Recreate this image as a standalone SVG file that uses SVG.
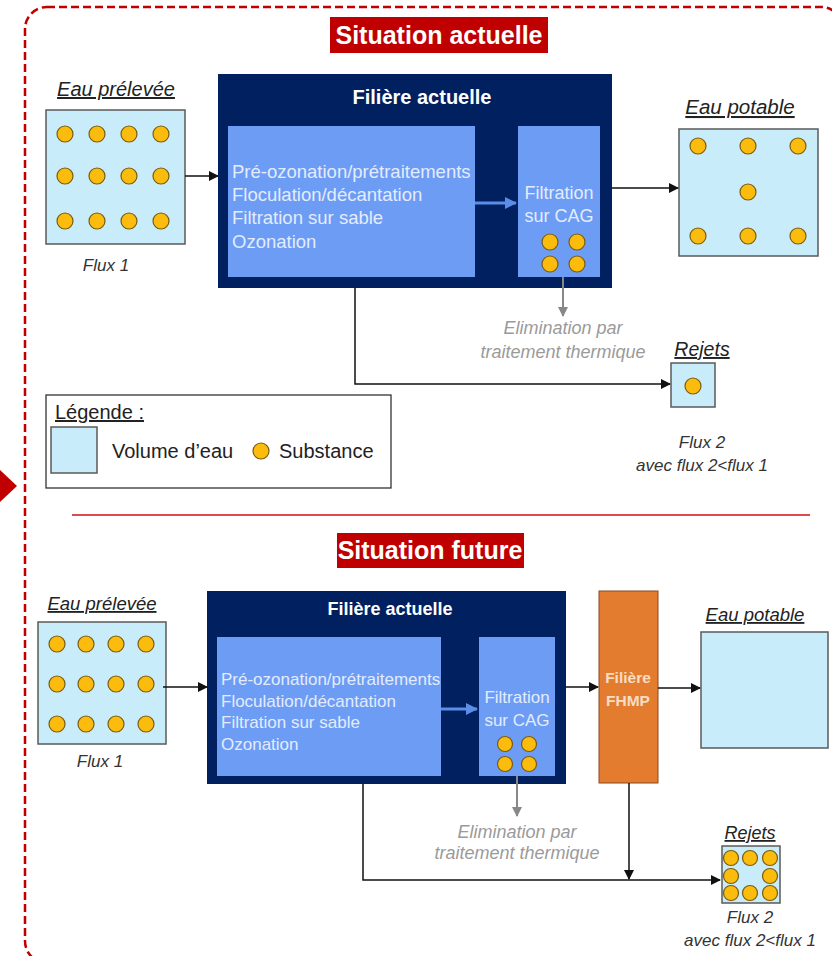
<svg xmlns="http://www.w3.org/2000/svg" width="832" height="956" viewBox="0 0 832 956">
<defs>
<style>
text{font-family:"Liberation Sans",Arial,sans-serif}
.title{font-size:25px;font-weight:bold;fill:#fff}
.tbox{fill:#c00000}
.water{fill:#c9ecfa;stroke:#5a5a5a;stroke-width:1.5}
.sub{fill:#fbbc0e;stroke:#7a5c10;stroke-width:1.2}
.navy{fill:#00205f}
.inner{fill:#6d9cf5}
.lbl{font-style:italic;text-decoration:underline;fill:#222}
.it{font-size:17px;font-style:italic;fill:#333}
.proc{fill:#e3ecfd}
.hd{font-weight:bold;fill:#fff}
.gray{font-size:18px;font-style:italic;fill:#9a9a9a}
.leg{font-size:20px;fill:#222}
.blk{stroke:#111;stroke-width:1.5;fill:none}
.gry{stroke:#888;stroke-width:2;fill:none}
.blu{stroke:#5b8ee8;stroke-width:3;fill:none}
</style>
<marker id="ab" markerWidth="10" markerHeight="10" refX="9" refY="5" orient="auto" markerUnits="userSpaceOnUse" viewBox="0 0 10 10"><path d="M0,0 L10,5 L0,10 z" fill="#111"/></marker>
<marker id="ag" markerWidth="10" markerHeight="10" refX="9" refY="5" orient="auto" markerUnits="userSpaceOnUse" viewBox="0 0 10 10"><path d="M0,0 L10,5 L0,10 z" fill="#888"/></marker>
<marker id="au" markerWidth="12" markerHeight="12" refX="11" refY="6" orient="auto" markerUnits="userSpaceOnUse" viewBox="0 0 12 12"><path d="M0,0 L12,6 L0,12 z" fill="#5b8ee8"/></marker>
</defs>
<rect width="832" height="956" fill="#fff"/>
<!-- outer dashed frame -->
<rect x="25" y="7" width="818" height="956" rx="22" fill="none" stroke="#c00000" stroke-width="2.5" stroke-dasharray="8 4"/>
<path d="M0,470 L17,486 L0,502 z" fill="#c00000"/>
<line x1="72" y1="515" x2="810" y2="515" stroke="#d01010" stroke-width="1.5"/>

<!-- ===== TOP: Situation actuelle ===== -->
<g id="title-actuelle"><rect class="tbox" x="330" y="17" width="218" height="36"/><text class="title" x="439" y="44" text-anchor="middle">Situation actuelle</text></g>

<g id="eau-prelevee-1">
<text class="lbl" x="116" y="96" text-anchor="middle" font-size="20">Eau prélevée</text>
<rect class="water" x="46" y="110" width="139" height="134"/>
<circle class="sub" cx="65" cy="134" r="8"/><circle class="sub" cx="97" cy="134" r="8"/><circle class="sub" cx="129" cy="134" r="8"/><circle class="sub" cx="161" cy="134" r="8"/>
<circle class="sub" cx="65" cy="176" r="8"/><circle class="sub" cx="97" cy="176" r="8"/><circle class="sub" cx="129" cy="176" r="8"/><circle class="sub" cx="161" cy="176" r="8"/>
<circle class="sub" cx="65" cy="221" r="8"/><circle class="sub" cx="97" cy="221" r="8"/><circle class="sub" cx="129" cy="221" r="8"/><circle class="sub" cx="161" cy="221" r="8"/>
<text class="it" x="106" y="271" text-anchor="middle">Flux 1</text>
</g>

<g id="filiere-actuelle-1">
<rect class="navy" x="218" y="74" width="394" height="214"/>
<text class="hd" x="422" y="104" text-anchor="middle" font-size="20">Filière actuelle</text>
<rect class="inner" x="228" y="126" width="247" height="151"/>
<text class="proc" x="232" y="178" font-size="18.5">Pré-ozonation/prétraitements</text>
<text class="proc" x="232" y="201" font-size="18.5">Floculation/décantation</text>
<text class="proc" x="232" y="224" font-size="18.5">Filtration sur sable</text>
<text class="proc" x="232" y="248" font-size="18.5">Ozonation</text>
<rect class="inner" x="518" y="126" width="82" height="151"/>
<text class="proc" x="559" y="199" text-anchor="middle" font-size="18">Filtration</text>
<text class="proc" x="559" y="222" text-anchor="middle" font-size="18">sur CAG</text>
<circle class="sub" cx="550" cy="242" r="8"/><circle class="sub" cx="577" cy="242" r="8"/>
<circle class="sub" cx="550" cy="264" r="8"/><circle class="sub" cx="577" cy="264" r="8"/>
</g>

<g id="eau-potable-1">
<text class="lbl" x="740" y="114" text-anchor="middle" font-size="20.5">Eau potable</text>
<rect class="water" x="679" y="129" width="139" height="127"/>
<circle class="sub" cx="698" cy="146" r="8"/><circle class="sub" cx="748" cy="146" r="8"/><circle class="sub" cx="798" cy="146" r="8"/>
<circle class="sub" cx="748" cy="192" r="8"/>
<circle class="sub" cx="698" cy="236" r="8"/><circle class="sub" cx="748" cy="236" r="8"/><circle class="sub" cx="798" cy="236" r="8"/>
</g>

<g id="elimination-1">
<text class="gray" x="563" y="334" text-anchor="middle">Elimination par</text>
<text class="gray" x="563" y="358" text-anchor="middle">traitement thermique</text>
</g>

<g id="rejets-1">
<text class="lbl" x="702" y="356" text-anchor="middle" font-size="19.5">Rejets</text>
<rect class="water" x="671" y="363" width="44" height="44"/>
<circle class="sub" cx="693" cy="386" r="8"/>
<text class="it" x="702" y="448" text-anchor="middle">Flux 2</text>
<text class="it" x="702" y="471" text-anchor="middle">avec flux 2&lt;flux 1</text>
</g>

<g id="legende">
<rect x="46" y="395" width="345" height="93" fill="#fff" stroke="#333" stroke-width="1.3"/>
<text class="leg" x="55" y="419" text-decoration="underline">Légende :</text>
<rect class="water" x="51" y="427" width="46" height="46"/>
<text class="leg" x="112" y="458">Volume d’eau</text>
<circle class="sub" cx="261" cy="451" r="8"/>
<text class="leg" x="279" y="458">Substance</text>
</g>

<g id="connectors-1">
<line class="blk" x1="185" y1="176" x2="218" y2="176" marker-end="url(#ab)"/>
<line class="blu" x1="475" y1="203" x2="516" y2="203" marker-end="url(#au)"/>
<line class="blk" x1="612" y1="188" x2="678" y2="188" marker-end="url(#ab)"/>
<line class="gry" x1="563" y1="277" x2="563" y2="316" marker-end="url(#ag)"/>
<polyline class="blk" points="355,288 355,384 670,384" marker-end="url(#ab)"/>
</g>

<!-- ===== BOTTOM: Situation future ===== -->
<g id="title-future"><rect class="tbox" x="337" y="533" width="187" height="35"/><text class="title" x="430" y="559" text-anchor="middle" font-size="24.5">Situation future</text></g>

<g id="eau-prelevee-2">
<text class="lbl" x="102" y="610" text-anchor="middle" font-size="18.5">Eau prélevée</text>
<rect class="water" x="38" y="622" width="128" height="122"/>
<circle class="sub" cx="57" cy="644" r="8"/><circle class="sub" cx="86" cy="644" r="8"/><circle class="sub" cx="116" cy="644" r="8"/><circle class="sub" cx="146" cy="644" r="8"/>
<circle class="sub" cx="57" cy="684" r="8"/><circle class="sub" cx="86" cy="684" r="8"/><circle class="sub" cx="116" cy="684" r="8"/><circle class="sub" cx="146" cy="684" r="8"/>
<circle class="sub" cx="57" cy="724" r="8"/><circle class="sub" cx="86" cy="724" r="8"/><circle class="sub" cx="116" cy="724" r="8"/><circle class="sub" cx="146" cy="724" r="8"/>
<text class="it" x="100" y="767" text-anchor="middle" font-size="16">Flux 1</text>
</g>

<g id="filiere-actuelle-2">
<rect class="navy" x="207" y="591" width="359" height="193"/>
<text class="hd" x="390" y="615" text-anchor="middle" font-size="18">Filière actuelle</text>
<rect class="inner" x="217" y="637" width="224" height="139"/>
<text class="proc" x="221" y="685" font-size="17">Pré-ozonation/prétraitements</text>
<text class="proc" x="221" y="707" font-size="17">Floculation/décantation</text>
<text class="proc" x="221" y="728" font-size="17">Filtration sur sable</text>
<text class="proc" x="221" y="750" font-size="17">Ozonation</text>
<rect class="inner" x="479" y="637" width="76" height="139"/>
<text class="proc" x="517" y="703" text-anchor="middle" font-size="17">Filtration</text>
<text class="proc" x="517" y="726" text-anchor="middle" font-size="17">sur CAG</text>
<circle class="sub" cx="505" cy="744" r="7.5"/><circle class="sub" cx="529" cy="744" r="7.5"/>
<circle class="sub" cx="505" cy="764" r="7.5"/><circle class="sub" cx="529" cy="764" r="7.5"/>
</g>

<g id="filiere-fhmp">
<rect x="599" y="591" width="59" height="192" fill="#e47c30" stroke="#8a4a20" stroke-width="1"/>
<text x="628" y="683" font-size="15.5" font-weight="bold" fill="#f8dcc4" text-anchor="middle">Filière</text>
<text x="628" y="706" font-size="15.5" font-weight="bold" fill="#f8dcc4" text-anchor="middle">FHMP</text>
</g>

<g id="eau-potable-2">
<text class="lbl" x="755" y="621" text-anchor="middle" font-size="18.5">Eau potable</text>
<rect class="water" x="701" y="632" width="127" height="116"/>
</g>

<g id="elimination-2">
<text class="gray" x="517" y="838" text-anchor="middle" font-size="16.5">Elimination par</text>
<text class="gray" x="517" y="859" text-anchor="middle" font-size="16.5">traitement thermique</text>
</g>

<g id="rejets-2">
<text class="lbl" x="750" y="839" text-anchor="middle" font-size="18">Rejets</text>
<rect class="water" x="722" y="846" width="58" height="57"/>
<circle class="sub" cx="731" cy="858" r="7.5"/><circle class="sub" cx="750" cy="858" r="7.5"/><circle class="sub" cx="770" cy="858" r="7.5"/>
<circle class="sub" cx="731" cy="876" r="7.5"/><circle class="sub" cx="770" cy="876" r="7.5"/>
<circle class="sub" cx="731" cy="893" r="7.5"/><circle class="sub" cx="750" cy="893" r="7.5"/><circle class="sub" cx="770" cy="893" r="7.5"/>
<text class="it" x="750" y="923" text-anchor="middle" font-size="16">Flux 2</text>
<text class="it" x="750" y="946" text-anchor="middle" font-size="16">avec flux 2&lt;flux 1</text>
</g>

<g id="connectors-2">
<line class="blk" x1="163" y1="687" x2="207" y2="687" marker-end="url(#ab)"/>
<line class="blu" x1="441" y1="709" x2="477" y2="709" marker-end="url(#au)"/>
<line class="blk" x1="566" y1="687" x2="598" y2="687" marker-end="url(#ab)"/>
<line class="blk" x1="658" y1="688" x2="700" y2="688" marker-end="url(#ab)"/>
<line class="gry" x1="517" y1="776" x2="517" y2="816" marker-end="url(#ag)"/>
<polyline class="blk" points="363,784 363,880 720,880" marker-end="url(#ab)"/>
<line class="blk" x1="629" y1="783" x2="629" y2="879" marker-end="url(#ab)"/>
</g>
</svg>
